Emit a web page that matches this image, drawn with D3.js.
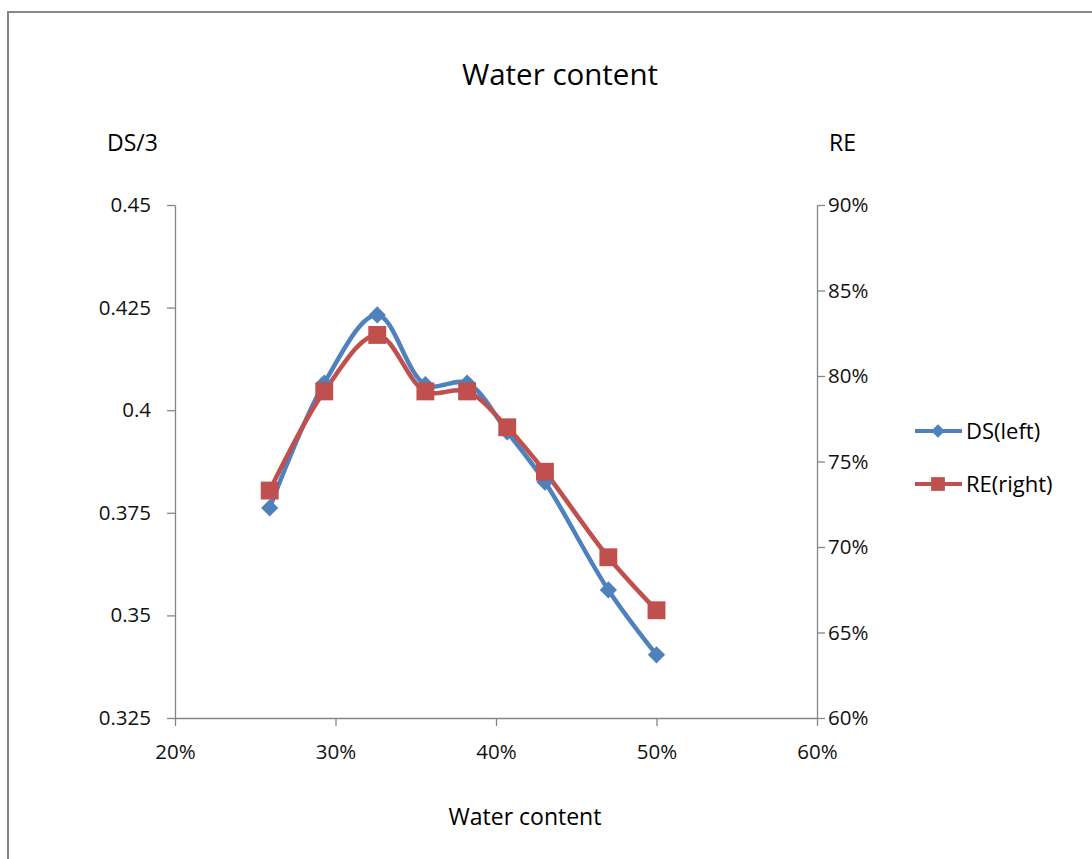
<!DOCTYPE html>
<html>
<head>
<meta charset="utf-8">
<script src="https://cdn.jsdelivr.net/npm/d3@7"></script>
<style>
  body { margin: 0; background: #fff; }
  svg { display: block; }
  svg text { font-family: "Open Sans", "Noto Sans", sans-serif; }
</style>
</head>
<body>
<div id="chart"></div>
<script>
// water content (x), DS/3 (left axis), RE (right axis)
const waterContent = [0.259, 0.293, 0.326, 0.356, 0.382, 0.407, 0.4305, 0.470, 0.500];
const dsValues = [0.3762, 0.4066, 0.4232, 0.4062, 0.4066, 0.3947, 0.3825, 0.3562, 0.3404];
const reValues = [0.733, 0.791, 0.824, 0.791, 0.791, 0.770, 0.744, 0.694, 0.663];

const xTicks = [0.2, 0.3, 0.4, 0.5, 0.6];
const leftTicks = [0.325, 0.35, 0.375, 0.4, 0.425, 0.45];
const rightTicks = [0.6, 0.65, 0.7, 0.75, 0.8, 0.85, 0.9];

const width = 1092;
const height = 859;
const blue = '#4f81bd';
const red = '#c0504d';
const axisColor = '#868686';

const svg = d3.select('#chart').append('svg')
  .attr('width', width)
  .attr('height', height);

// outer frame
svg.append('rect')
  .attr('x', 8).attr('y', 12)
  .attr('width', 1100).attr('height', 900)
  .attr('fill', '#fff')
  .attr('stroke', '#878787')
  .attr('stroke-width', 2);

const x = d3.scaleLinear().domain([0.2, 0.6]).range([175, 817]);
const yLeft = d3.scaleLinear().domain([0.325, 0.45]).range([718, 205]);
const yRight = d3.scaleLinear().domain([0.6, 0.9]).range([718, 205]);

function styleAxis (g) {
  g.attr('font-family', null);
  g.select('.domain').attr('stroke', axisColor).attr('stroke-width', 1.3);
  g.selectAll('.tick line').attr('stroke', axisColor).attr('stroke-width', 1.3);
  g.selectAll('.tick text')
    .attr('fill', '#111')
    .style('font-size', '20.5px');
}

svg.append('g')
  .attr('transform', 'translate(0,718)')
  .call(d3.axisBottom(x).tickValues(xTicks).tickSize(8).tickSizeOuter(0)
    .tickPadding(18).tickFormat(d3.format('.0%')))
  .call(styleAxis);

svg.append('g')
  .attr('transform', 'translate(175,0)')
  .call(d3.axisLeft(yLeft).tickValues(leftTicks).tickSize(8).tickSizeOuter(0)
    .tickPadding(16).tickFormat(d => String(+d.toFixed(3))))
  .call(styleAxis);

svg.append('g')
  .attr('transform', 'translate(817,0)')
  .call(d3.axisRight(yRight).tickValues(rightTicks).tickSize(8).tickSizeOuter(0)
    .tickPadding(3).tickFormat(d3.format('.0%')))
  .call(styleAxis);

// titles
svg.append('text')
  .attr('x', 560).attr('y', 85)
  .attr('text-anchor', 'middle')
  .style('font-size', '29.5px')
  .text('Water content');

svg.append('text')
  .attr('x', 107).attr('y', 151)
  .style('font-size', '23px')
  .text('DS/3');

svg.append('text')
  .attr('x', 829).attr('y', 151)
  .style('font-size', '23px')
  .text('RE');

svg.append('text')
  .attr('x', 525).attr('y', 825)
  .attr('text-anchor', 'middle')
  .style('font-size', '23px')
  .text('Water content');

const dsPoints = waterContent.map((w, i) => [x(w), yLeft(dsValues[i])]);
const rePoints = waterContent.map((w, i) => [x(w), yRight(reValues[i])]);

const line = d3.line().curve(d3.curveCatmullRom.alpha(0.5));

svg.append('path')
  .attr('d', line(dsPoints))
  .attr('fill', 'none')
  .attr('stroke', blue)
  .attr('stroke-width', 4.5);

const diamond = d3.symbol().type(d3.symbolDiamond2).size(190);
const square = d3.symbol().type(d3.symbolSquare).size(320);

svg.append('path')
  .attr('d', line(rePoints))
  .attr('fill', 'none')
  .attr('stroke', red)
  .attr('stroke-width', 4.5);

svg.selectAll('.ds-mark')
  .data(dsPoints)
  .enter().append('path')
    .attr('class', 'ds-mark')
    .attr('transform', d => 'translate(' + d[0] + ',' + d[1] + ')')
    .attr('d', diamond)
    .attr('fill', blue);

svg.selectAll('.re-mark')
  .data(rePoints)
  .enter().append('path')
    .attr('class', 're-mark')
    .attr('transform', d => 'translate(' + d[0] + ',' + d[1] + ')')
    .attr('d', square)
    .attr('fill', red);

// legend
const legend = [
  {name: 'DS(left)', color: blue, symbol: d3.symbol().type(d3.symbolDiamond2).size(120), y: 431},
  {name: 'RE(right)', color: red, symbol: d3.symbol().type(d3.symbolSquare).size(190), y: 484}
];

const lg = svg.selectAll('.legend')
  .data(legend)
  .enter().append('g')
    .attr('class', 'legend')
    .attr('transform', d => 'translate(0,' + d.y + ')');

lg.append('line')
  .attr('x1', 915).attr('x2', 962)
  .attr('stroke', d => d.color)
  .attr('stroke-width', 4);

lg.append('path')
  .attr('transform', 'translate(938,0)')
  .attr('d', d => d.symbol())
  .attr('fill', d => d.color);

lg.append('text')
  .attr('x', 966).attr('y', 8)
  .style('font-size', '22px')
  .text(d => d.name);
</script>
</body>
</html>
